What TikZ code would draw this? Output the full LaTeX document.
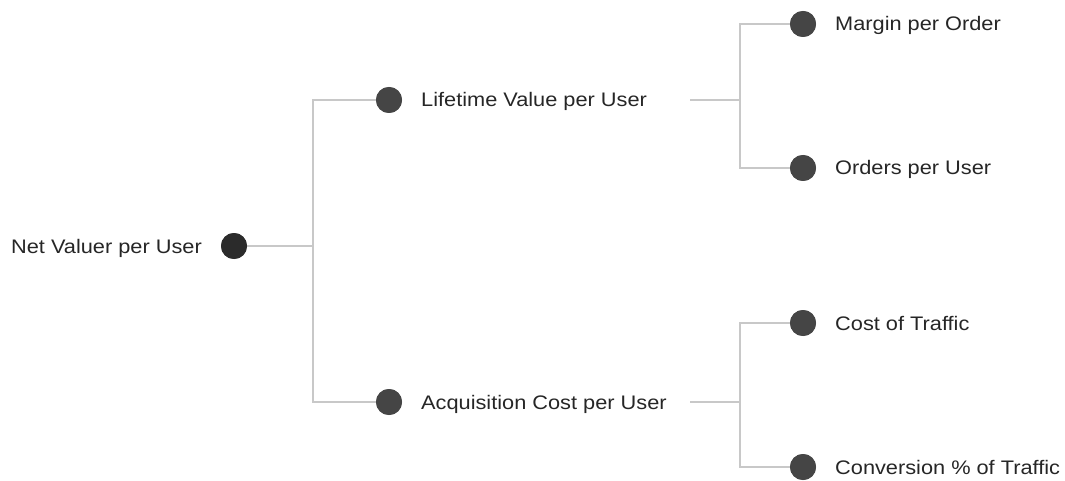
\documentclass[tikz,border=0pt]{standalone}
\usepackage{fontspec}
\setmainfont{Liberation Sans}[FakeStretch=1.11]
\definecolor{dotroot}{HTML}{2B2B2B}
\definecolor{dotfill}{HTML}{454545}
\definecolor{wire}{HTML}{C8C8C8}
\definecolor{ink}{HTML}{262626}
\begin{document}
\begin{tikzpicture}[x=1pt,y=-1pt,
  dot/.style={circle,fill=dotfill,minimum size=26pt,inner sep=0pt},
  rootdot/.style={dot,fill=dotroot},
  lbl/.style={anchor=base west,inner sep=0pt,text=ink,font=\fontsize{19.6pt}{22pt}\selectfont},
  wireline/.style={draw=wire,line width=1.4pt}]
\useasboundingbox (0,0) rectangle (1065,481);

% nodes
\node[rootdot] (root) at (234,246) {};
\node[dot] (ltv) at (389,100) {};
\node[dot] (acq) at (389,402) {};
\node[dot] (mpo) at (803,24) {};
\node[dot] (opu) at (803,168) {};
\node[dot] (cot) at (803,323) {};
\node[dot] (cvr) at (803,467) {};

% labels
\node[lbl,anchor=base east] (trootx) at (202,253) {Net Valuer per User};
\node[lbl] (tltv) at (421,107) {Lifetime Value per User};
\node[lbl] (tacq) at (421,409) {Acquisition Cost per User};
\node[lbl] (tmpo) at (835,31) {Margin per Order};
\node[lbl] (topu) at (835,175) {Orders per User};
\node[lbl] (tcot) at (835,330) {Cost of Traffic};
\node[lbl] (tcvr) at (835,474) {Conversion \% of Traffic};

% branch points and stubs
\coordinate (j1) at (313,246);
\coordinate (s1) at (690,100);
\coordinate (j2) at (740,100);
\coordinate (s2) at (690,402);
\coordinate (j3) at (740,402);

% connectors
\draw[wireline] (root) -- (j1);
\draw[wireline] (ltv) -| (j1) |- (acq);
\draw[wireline] (s1) -- (j2);
\draw[wireline] (mpo) -| (j2) |- (opu);
\draw[wireline] (s2) -- (j3);
\draw[wireline] (cot) -| (j3) |- (cvr);

% redraw dots above the wires
\node[rootdot] at (root) {};
\foreach \n in {ltv,acq,mpo,opu,cot,cvr} \node[dot] at (\n) {};
\end{tikzpicture}
\end{document}
